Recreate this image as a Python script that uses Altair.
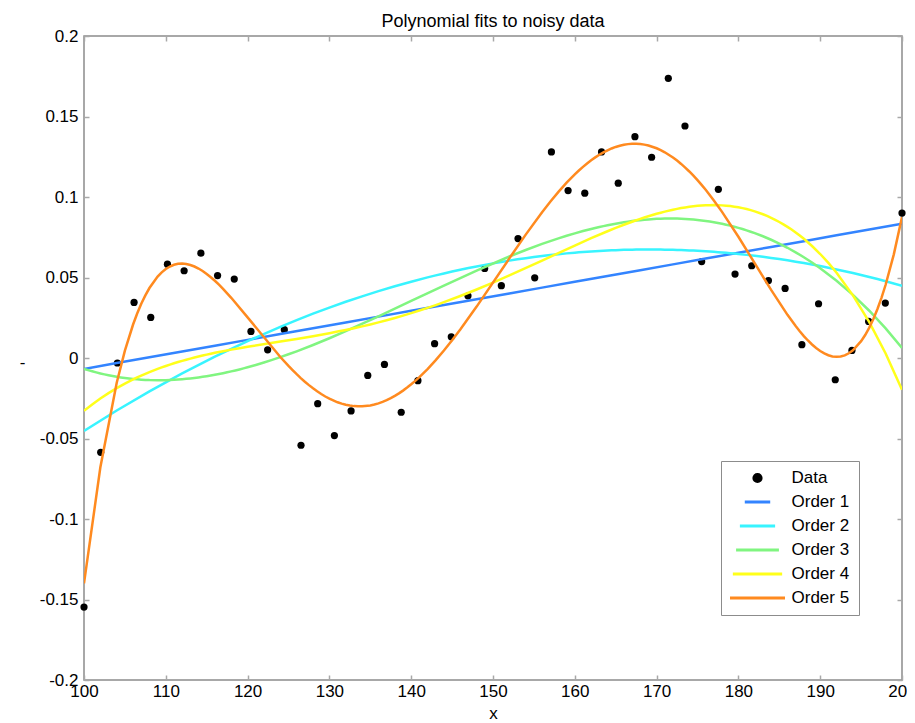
import altair as alt
import pandas as pd

# ---- data ----
x_vals = [100.00, 102.04, 104.08, 106.12, 108.16, 110.20, 112.24, 114.29, 116.33, 118.37,
          120.41, 122.45, 124.49, 126.53, 128.57, 130.61, 132.65, 134.69, 136.73, 138.78,
          140.82, 142.86, 144.90, 146.94, 148.98, 151.02, 153.06, 155.10, 157.14, 159.18,
          161.22, 163.27, 165.31, 167.35, 169.39, 171.43, 173.47, 175.51, 177.55, 179.59,
          181.63, 183.67, 185.71, 187.76, 189.80, 191.84, 193.88, 195.92, 197.96, 200.00]
y_vals = [-0.1547, -0.0586, -0.0031, 0.0345, 0.0252, 0.0583, 0.0542, 0.0651, 0.0512, 0.0490,
          0.0165, 0.0051, 0.0176, -0.0542, -0.0284, -0.0482, -0.0329, -0.0108, -0.0040, -0.0337,
          -0.0141, 0.0089, 0.0132, 0.0386, 0.0556, 0.0449, 0.0742, 0.0498, 0.1280, 0.1040,
          0.1024, 0.1280, 0.1086, 0.1375, 0.1247, 0.1737, 0.1441, 0.0599, 0.1048, 0.0521,
          0.0573, 0.0481, 0.0432, 0.0083, 0.0337, -0.0135, 0.0047, 0.0227, 0.0341, 0.0900]

series_names = ["Data", "Order 1", "Order 2", "Order 3", "Order 4", "Order 5"]
series_colors = ["#000000", "#3384ff", "#38f4ff", "#80f580", "#ffff1a", "#ff8a1f"]
series_shapes = ["circle", "stroke", "stroke", "stroke", "stroke", "stroke"]
series_sizes = [52, 3025, 3025, 3025, 3025, 3025]
poly_orders = [1, 2, 3, 4, 5]
x_ticks = [100, 110, 120, 130, 140, 150, 160, 170, 180, 190, 200]
y_ticks = [-0.2, -0.15, -0.1, -0.05, 0, 0.05, 0.1, 0.15, 0.2]

FONT = "Liberation Sans"

df = pd.DataFrame({"x": x_vals, "y": y_vals})
df["series"] = "Data"

color_scale = alt.Scale(domain=series_names, range=series_colors)
shape_scale = alt.Scale(domain=series_names, range=series_shapes)
size_scale = alt.Scale(domain=series_names, range=series_sizes)
x_scale = alt.Scale(domain=[100, 200], nice=False, zero=False)
y_scale = alt.Scale(domain=[-0.2, 0.2], nice=False, zero=False)

legend = alt.Legend(
    title=None, orient="none", legendX=637, legendY=425,
    padding=9, rowPadding=7, fillColor="white", strokeColor="#8c8c8c",
    clipHeight=16,
    symbolStrokeWidth=3, symbolOffset=-1.5, labelOffset=5,
    labelFont=FONT, labelFontSize=17, labelColor="black", labelLimit=300,
    symbolOpacity=1,
)

axis_common = dict(
    domain=False, grid=False, tickSize=5, tickColor="#a8a8a8", tickWidth=1.5,
    offset=-5, labelFont=FONT, labelFontSize=17, labelColor="black",
    labelFlush=False, labelOverlap=False,
)

x_axis = alt.Axis(orient="bottom", values=x_ticks, labelPadding=3, title="x",
                  titleFont=FONT, titleFontSize=17, titleFontWeight="normal",
                  titleColor="black", titleY=43, titleBaseline="alphabetic",
                  **axis_common)
y_axis = alt.Axis(orient="left", values=y_ticks, labelPadding=6,
                  labelExpr="'' + datum.value", title="-",
                  titleFont=FONT, titleFontSize=17, titleFontWeight="normal",
                  titleColor="black", titleAngle=0, titleX=-67, titleY=326,
                  titleAlign="center", titleBaseline="middle", **axis_common)
x_axis_top = alt.Axis(orient="top", values=x_ticks, labels=False, title=None, **axis_common)
y_axis_right = alt.Axis(orient="right", values=y_ticks, labels=False, title=None, **axis_common)

base = alt.Chart(df)

points = base.mark_point(filled=True, opacity=1).encode(
    x=alt.X("x:Q", scale=x_scale, axis=x_axis),
    y=alt.Y("y:Q", scale=y_scale, axis=y_axis),
    color=alt.Color("series:N", scale=color_scale, legend=legend),
    shape=alt.Shape("series:N", scale=shape_scale, legend=legend),
    size=alt.Size("series:N", scale=size_scale, legend=legend),
)

fits = []
for k, name in zip(poly_orders, series_names[1:]):
    fits.append(
        base.transform_calculate(u="(datum.x - 150) / 50")
        .transform_regression("u", "y", method="poly", order=k)
        .transform_calculate(x="datum.u * 50 + 150", series=f"'{name}'")
        .mark_line(strokeWidth=2.5, clip=True)
        .encode(
            x=alt.X("x:Q", scale=x_scale, axis=None),
            y=alt.Y("y:Q", scale=y_scale, axis=None),
            color=alt.Color("series:N", scale=color_scale, legend=legend),
        )
    )

frame = base.mark_circle(opacity=0).encode(
    x=alt.X("x:Q", scale=x_scale, axis=x_axis_top),
    y=alt.Y("y:Q", scale=y_scale, axis=y_axis_right),
)

chart = (
    alt.layer(points, *fits, frame)
    .resolve_axis(x="independent", y="independent")
    .properties(
        width=818, height=644,
        autosize=alt.AutoSizeParams(type="none"),
        padding={"left": 76, "top": 28, "right": 5, "bottom": 43},
        title=alt.TitleParams("Polynomial fits to noisy data", font=FONT, fontSize=18,
                              fontWeight="normal", color="black", offset=6, dy=10,
                              anchor="middle"),
        background="white",
    )
    .configure_view(stroke="#8c8c8c", strokeWidth=1.5)
)

chart.save("out.html", embed_options={"renderer": "svg", "actions": False})
